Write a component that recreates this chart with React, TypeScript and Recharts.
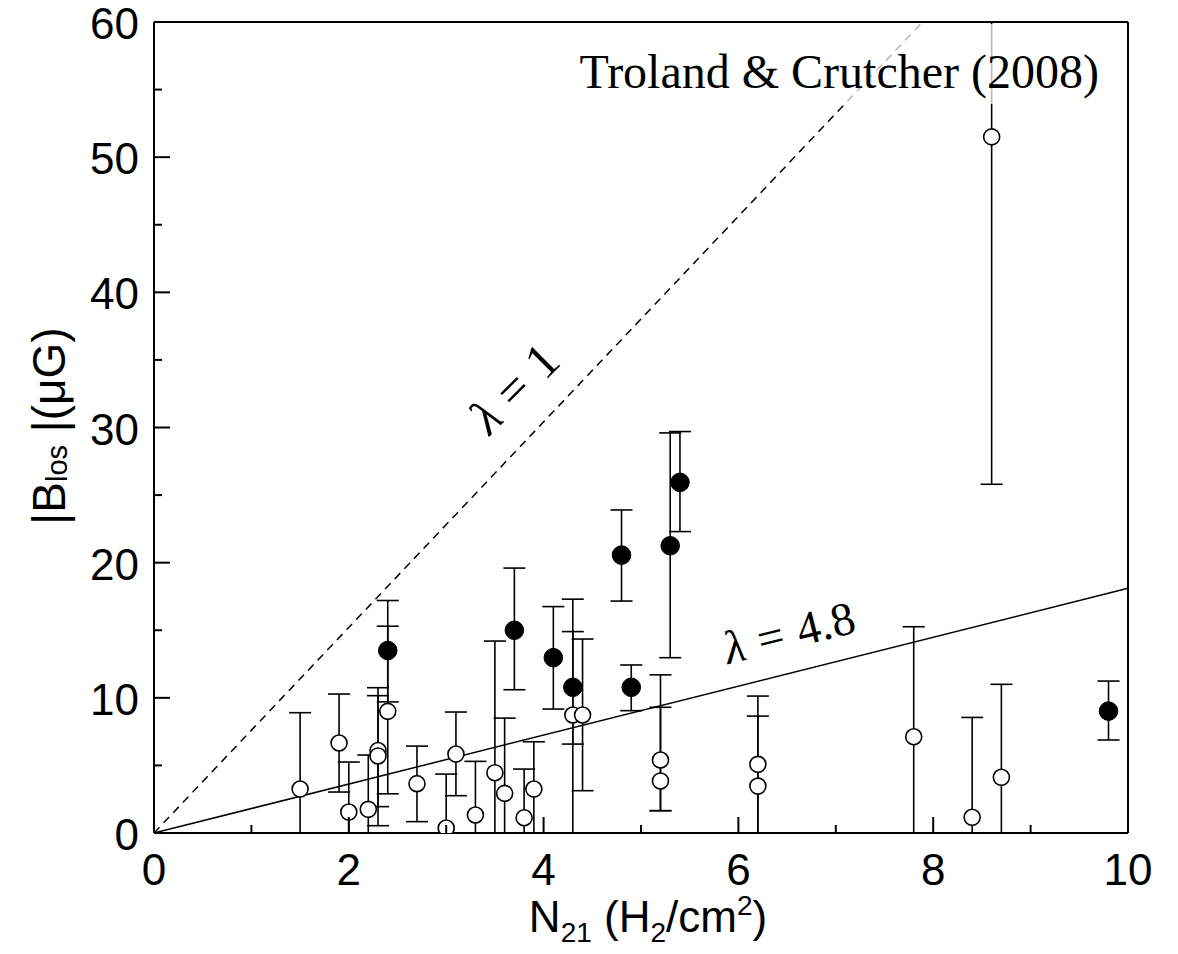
import React from 'react';
import { ScatterChart, Scatter, XAxis, YAxis, ErrorBar, Customized } from 'recharts';

// open circles: x, value, lower end of bar, upper end of bar
const openX = [1.5, 1.9, 2.0, 2.2, 2.3, 2.3, 2.4, 2.7, 3.0, 3.1, 3.3, 3.5, 3.6, 3.8, 3.9, 4.3, 4.4, 5.2, 5.2, 6.2, 6.2, 7.8, 8.4, 8.6, 8.7];
const openY = [3.25, 6.66, 1.55, 1.75, 6.1, 5.7, 9.0, 3.65, 0.37, 5.84, 1.33, 4.46, 2.93, 1.13, 3.25, 8.73, 8.73, 5.4, 3.85, 5.08, 3.47, 7.12, 1.16, 51.5, 4.12];
const openLow = [0, 3.03, 0, 0, 1.95, 0.54, 2.9, 0.84, 0, 2.76, 0, 0, 0, 0, 0, 0, 3.13, 1.65, 1.65, 0, 0, 0, 0, 25.8, 0];
const openHigh = [8.9, 10.28, 5.25, 5.77, 10.75, 10.16, 15.3, 6.43, 4.36, 8.95, 5.3, 14.2, 8.5, 4.73, 6.75, 17.3, 14.35, 11.7, 9.3, 10.13, 8.65, 15.26, 8.55, 60, 11.0];

// filled circles
const filledX = [2.4, 3.7, 4.1, 4.3, 4.8, 4.9, 5.3, 5.4, 9.8];
const filledY = [13.5, 15.0, 12.97, 10.78, 20.56, 10.78, 21.25, 25.94, 9.02];
const filledLow = [9.7, 10.6, 9.17, 6.58, 17.16, 9.05, 12.97, 22.3, 6.88];
const filledHigh = [17.2, 19.6, 16.75, 14.9, 23.9, 12.43, 29.6, 29.7, 11.24];

// the two lambda lines
const lambda1Line = [{ x: 0, y: 0 }, { x: 7.89, y: 60 }];
const lambda48Line = [{ x: 0, y: 0 }, { x: 10, y: 18.1 }];

const xTicks = [0, 1, 2, 3, 4, 5, 6, 7, 8, 9, 10];
const yTicks = [0, 5, 10, 15, 20, 25, 30, 35, 40, 45, 50, 55, 60];

const SANS = 'Liberation Sans, Arial, Helvetica, sans-serif';
const SERIF = 'Liberation Serif, Times New Roman, serif';

const toRows = (xs: number[], ys: number[], lo: number[], hi: number[]) =>
  xs.map((x, i) => ({ x, y: ys[i], err: [ys[i] - lo[i], hi[i] - ys[i]] }));

const openRows = toRows(openX, openY, openLow, openHigh);
const filledRows = toRows(filledX, filledY, filledLow, filledHigh);

const BottomTick = (props: any) => {
  const { x, y, payload } = props;
  const major = payload.value % 2 === 0;
  return (
    <g>
      <line x1={x} x2={x} y1={y} y2={y - (major ? 16 : 8)} stroke="#000" strokeWidth={2} />
      {major && (
        <text x={x} y={y + 52} textAnchor="middle" fontSize={44} fontFamily={SANS} fill="#000">
          {payload.value}
        </text>
      )}
    </g>
  );
};

const TopTick = (props: any) => {
  const { x, y, payload } = props;
  const major = payload.value % 2 === 0;
  return <line x1={x} x2={x} y1={y} y2={y + (major ? 16 : 8)} stroke="#000" strokeWidth={2} />;
};

const LeftTick = (props: any) => {
  const { x, y, payload } = props;
  const major = payload.value % 10 === 0;
  return (
    <g>
      <line x1={x} x2={x + (major ? 16 : 8)} y1={y} y2={y} stroke="#000" strokeWidth={2} />
      {major && (
        <text x={x - 15} y={y + 17} textAnchor="end" fontSize={44} fontFamily={SANS} fill="#000">
          {payload.value}
        </text>
      )}
    </g>
  );
};

const RightTick = (props: any) => {
  const { x, y, payload } = props;
  const major = payload.value % 10 === 0;
  return <line x1={x} x2={x - (major ? 16 : 8)} y1={y} y2={y} stroke="#000" strokeWidth={2} />;
};

const OpenDot = (p: any) => <circle cx={p.cx} cy={p.cy} r={8} fill="#fff" stroke="#000" strokeWidth={1.6} />;
const FilledDot = (p: any) => <circle cx={p.cx} cy={p.cy} r={9.3} fill="#000" stroke="#000" strokeWidth={1} />;
const NoDot = () => <g />;

// axis titles and the lambda labels
const Annotations = () => (
  <g>
    <text transform="translate(526,400) rotate(-45)" textAnchor="middle" fontSize={50} fontFamily={SERIF} fill="#000">
      <tspan fontStyle="italic">λ</tspan>
      <tspan dx={14}>=</tspan>
      <tspan dx={14}>1</tspan>
    </text>
    <text transform="translate(793,648) rotate(-14)" textAnchor="middle" fontSize={47} fontFamily={SERIF} fill="#000">
      <tspan fontStyle="italic">λ</tspan>
      <tspan dx={14}>=</tspan>
      <tspan dx={14}>4.8</tspan>
    </text>
    <text x={648} y={932} textAnchor="middle" fontSize={44} fontFamily={SANS} fill="#000">
      N<tspan fontSize={28} dy={10}>21</tspan>
      <tspan dy={-10}> (H</tspan>
      <tspan fontSize={28} dy={10}>2</tspan>
      <tspan dy={-10}>/cm</tspan>
      <tspan fontSize={28} dy={-17}>2</tspan>
      <tspan dy={17}>)</tspan>
    </text>
    <text transform="translate(65,426) rotate(-90)" textAnchor="middle" fontSize={46} fontFamily={SANS} fill="#000">
      |B<tspan fontSize={29} dy={2}>los</tspan>
      <tspan dy={-2}> |(μG)</tspan>
    </text>
  </g>
);

export default function App() {
  return (
    <div style={{ position: 'relative', marginTop: -8, marginLeft: -8, width: 1178, height: 954 }}>
      <ScatterChart width={1178} height={954} margin={{ top: 0, right: 0, bottom: 0, left: 0 }}>
        <XAxis
          xAxisId="b"
          orientation="bottom"
          type="number"
          dataKey="x"
          domain={[0, 10]}
          ticks={xTicks}
          interval={0}
          height={121}
          tickSize={0}
          tickMargin={0}
          tickLine={false}
          tick={<BottomTick />}
          axisLine={{ stroke: '#000', strokeWidth: 2 }}
        />
        <XAxis
          xAxisId="t"
          orientation="top"
          type="number"
          dataKey="x"
          domain={[0, 10]}
          ticks={xTicks}
          interval={0}
          height={22}
          tickSize={0}
          tickMargin={0}
          tickLine={false}
          tick={<TopTick />}
          axisLine={{ stroke: '#000', strokeWidth: 2 }}
        />
        <YAxis
          yAxisId="l"
          orientation="left"
          type="number"
          dataKey="y"
          domain={[0, 60]}
          ticks={yTicks}
          interval={0}
          width={154}
          tickSize={0}
          tickMargin={0}
          tickLine={false}
          tick={<LeftTick />}
          axisLine={{ stroke: '#000', strokeWidth: 2 }}
          allowDataOverflow
        />
        <YAxis
          yAxisId="r"
          orientation="right"
          type="number"
          dataKey="y"
          domain={[0, 60]}
          ticks={yTicks}
          interval={0}
          width={50}
          tickSize={0}
          tickMargin={0}
          tickLine={false}
          tick={<RightTick />}
          axisLine={{ stroke: '#000', strokeWidth: 2 }}
        />
        <Scatter
          xAxisId="b"
          yAxisId="l"
          data={lambda1Line}
          line={{ stroke: '#000', strokeWidth: 1.5, strokeDasharray: '8 6' }}
          shape={<NoDot />}
          isAnimationActive={false}
        />
        <Scatter
          xAxisId="b"
          yAxisId="l"
          data={lambda48Line}
          line={{ stroke: '#000', strokeWidth: 1.5 }}
          shape={<NoDot />}
          isAnimationActive={false}
        />
        <Scatter xAxisId="b" yAxisId="l" data={filledRows} shape={<FilledDot />} isAnimationActive={false}>
          <ErrorBar dataKey="err" direction="y" width={11} stroke="#000" strokeWidth={1.6} isAnimationActive={false} />
        </Scatter>
        <Scatter xAxisId="b" yAxisId="l" data={openRows} shape={<OpenDot />} isAnimationActive={false}>
          <ErrorBar dataKey="err" direction="y" width={11} stroke="#000" strokeWidth={1.6} isAnimationActive={false} />
        </Scatter>
        <Customized component={Annotations} />
      </ScatterChart>
      {/* faded box with the citation, laid over the plot */}
      <svg width={1178} height={954} style={{ position: 'absolute', left: 0, top: 0, pointerEvents: 'none' }}>
        <rect x={575} y={24} width={551} height={80} fill="#fff" fillOpacity={0.72} />
        <text x={1099} y={88} textAnchor="end" fontSize={48} fontFamily={SERIF} fill="#000">
          Troland &amp; Crutcher (2008)
        </text>
      </svg>
    </div>
  );
}
